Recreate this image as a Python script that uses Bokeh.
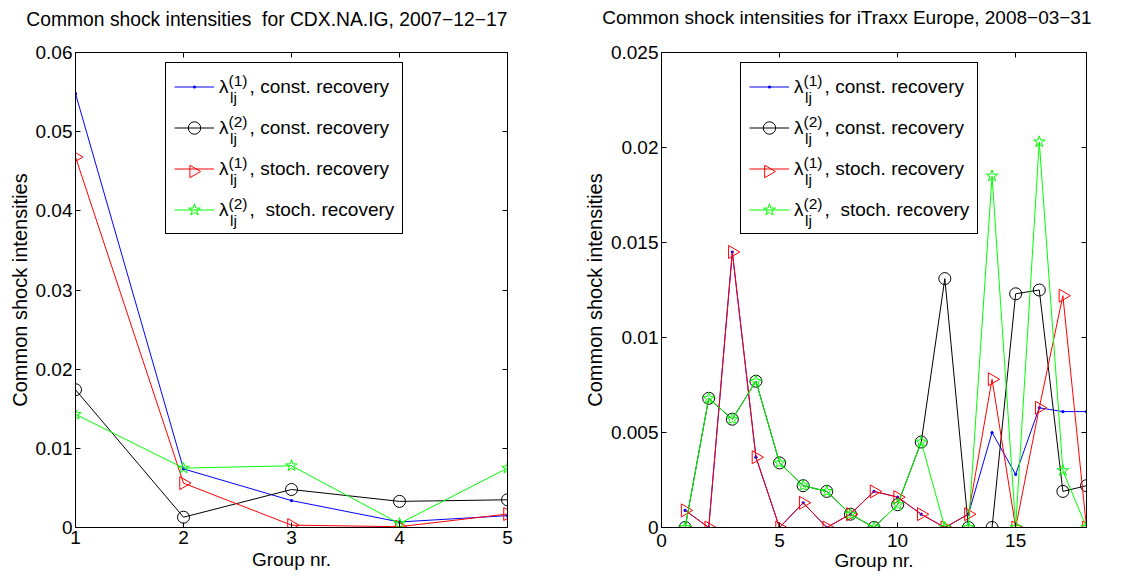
import math
from bokeh.plotting import figure
from bokeh.models import Range1d, FixedTicker, LinearAxis, Legend, LegendItem, Label
from bokeh.core.properties import value
from bokeh.layouts import row
from bokeh.embed import file_html
from bokeh.resources import INLINE

# ---------------- data ----------------
# Left panel: CDX.NA.IG, 2007-12-17
cdx_groups = [1, 2, 3, 4, 5]
cdx_l1_const = [0.0548, 0.0074, 0.0034, 0.0007, 0.0015]
cdx_l2_const = [0.0174, 0.0013, 0.0048, 0.0033, 0.0035]
cdx_l1_stoch = [0.0468, 0.0056, 0.0003, 0.0001, 0.0017]
cdx_l2_stoch = [0.0143, 0.0075, 0.0078, 0.0005, 0.0075]

# Right panel: iTraxx Europe, 2008-03-31
itx_groups = [1, 2, 3, 4, 5, 6, 7, 8, 9, 10, 11, 12, 13, 14, 15, 16, 17, 18]
itx_l1_const = [0.0009, 0.0, 0.0145, 0.0037, 0.0, 0.0013, 0.0, 0.0007, 0.0019,
                0.0016, 0.0007, 0.0, 0.0007, 0.0050, 0.0028, 0.0063, 0.0061, 0.0061]
itx_l2_const = [0.0, 0.0068, 0.0057, 0.0077, 0.0034, 0.0022, 0.0019, 0.0007, 0.0,
                0.0012, 0.0045, 0.0131, 0.0, 0.0, 0.0123, 0.0125, 0.0019, 0.0022]
itx_l1_stoch = [0.0009, 0.0, 0.0145, 0.0037, 0.0, 0.0013, 0.0, 0.0007, 0.0019,
                0.0016, 0.0007, 0.0, 0.0007, 0.0078, 0.0, 0.0063, 0.0122, 0.0]
itx_l2_stoch = [0.0, 0.0068, 0.0057, 0.0077, 0.0034, 0.0022, 0.0019, 0.0007, 0.0,
                0.0012, 0.0045, 0.0, 0.0, 0.0185, 0.0, 0.0203, 0.0030, 0.0]

# ticks
cdx_xticks = [1, 2, 3, 4, 5]
cdx_xlabels = ["1", "2", "3", "4", "5"]
cdx_yticks = [0, 0.01, 0.02, 0.03, 0.04, 0.05, 0.06]
cdx_ylabels = ["0", "0.01", "0.02", "0.03", "0.04", "0.05", "0.06"]
itx_xticks = [0, 5, 10, 15]
itx_xlabels = ["0", "5", "10", "15"]
itx_yticks = [0, 0.005, 0.01, 0.015, 0.02, 0.025]
itx_ylabels = ["0", "0.005", "0.01", "0.015", "0.02", "0.025"]

# legend texts
GAP = "\u00a0\u00a0\u00a0\u00a0"
legend_main = ["λ" + GAP + ", const. recovery",
               "λ" + GAP + ", const. recovery",
               "λ" + GAP + ", stoch. recovery",
               "λ" + GAP + ",\u00a0\u00a0stoch. recovery"]
legend_sup = ["(1)", "(2)", "(1)", "(2)"]
legend_sub = "lj"

title_cdx = "Common shock intensities\u00a0 for CDX.NA.IG, 2007\u221212\u221217"
title_itx = "Common shock intensities for iTraxx Europe, 2008\u221203\u221231"
x_title = "Group nr."
y_title = "Common shock intensities"

FONT = "Liberation Sans"

styles = [
    dict(color="#0000ff", marker="dot", size=13, angle=0.0, fill="#0000ff"),
    dict(color="#000000", marker="circle", size=12, angle=0.0, fill=None),
    dict(color="#ff0000", marker="triangle", size=13, angle=-math.pi / 2, fill=None),
    dict(color="#00ff00", marker="star", size=12, angle=0.0, fill=None),
]

PAD, LH, SP, GW, SO = 8, 31, 10, 40, 5
LEG_H = 2 * PAD + 4 * LH + 3 * SP


def make_panel(title, t_size, xs, series, xr, yr, xt, xl, yt, yl, width, mbl, mbr, mbt,
               mbb, t_standoff, t_offset, leg_x, leg_y, x_std, xl_std):
    p = figure(width=width, height=579, x_range=Range1d(*xr), y_range=Range1d(*yr),
               output_backend="svg", toolbar_location=None,
               min_border_left=mbl, min_border_right=mbr,
               min_border_top=mbt, min_border_bottom=mbb,
               background_fill_color="white", border_fill_color="white",
               outline_line_color="black", outline_line_width=1)
    fw = width - mbl - mbr
    fh = 579 - mbt - mbb
    p.extra_x_ranges = {"px": Range1d(0, fw)}
    p.extra_y_ranges = {"py": Range1d(0, fh)}
    p.grid.visible = False

    # title: a second (blank) line keeps the first line up at the top of the page
    p.title.text = title + "\n\u00a0"
    p.title.align = "right"
    p.title.vertical_align = "top"
    p.title.offset = t_offset
    p.title.standoff = t_standoff
    p.title.text_font = FONT
    p.title.text_font_size = t_size
    p.title.text_font_style = "normal"
    p.title.text_color = "black"

    xa = p.below[0]
    ya = p.left[0]
    for ax, ticks, labels in ((xa, xt, xl), (ya, yt, yl)):
        ax.ticker = FixedTicker(ticks=ticks)
        ax.major_label_overrides = {float(t): s for t, s in zip(ticks, labels)}
        ax.major_label_text_font = FONT
        ax.major_label_text_font_size = "19px"
        ax.major_label_text_color = "black"
        ax.major_tick_in = 5
        ax.major_tick_out = 0
        ax.major_tick_line_color = "black"
        ax.minor_tick_line_color = None
        ax.axis_line_color = "black"
        ax.axis_label_text_font = FONT
        ax.axis_label_text_font_style = "normal"
        ax.axis_label_text_color = "black"
    xa.axis_label = x_title
    xa.axis_label_text_font_size = "19px"
    xa.major_label_standoff = x_std
    xa.axis_label_standoff = xl_std
    ya.axis_label = y_title
    ya.axis_label_text_font_size = "20px"
    ya.major_label_standoff = 3
    ya.axis_label_standoff = 2

    for side, ticks in (("above", xt), ("right", yt)):
        ax = LinearAxis(ticker=FixedTicker(ticks=ticks), major_label_text_font_size="0px",
                        major_label_text_color=None,
                        major_label_standoff=0, major_tick_in=5, major_tick_out=0,
                        major_tick_line_color="black", minor_tick_line_color=None,
                        axis_line_color="black")
        p.add_layout(ax, side)

    items = []
    for vals, st, lab in zip(series, styles, legend_main):
        lr = p.line(xs, vals, line_color=st["color"], line_width=1)
        sr = p.scatter(xs, vals, marker=st["marker"], size=st["size"], angle=st["angle"],
                       line_color=st["color"], fill_color=st["fill"], line_width=1)
        rends = [lr] if st["angle"] != 0 else [lr, sr]
        items.append(LegendItem(label=value(lab), renderers=rends))

    legend = Legend(items=items, location=(leg_x, leg_y), padding=PAD, spacing=SP,
                    label_height=LH, glyph_height=LH, glyph_width=GW, label_standoff=SO,
                    margin=0, border_line_color="black", border_line_width=1,
                    border_line_alpha=1, background_fill_alpha=0,
                    label_text_font=FONT,
                    label_text_font_size="19px", label_text_color="black")
    p.add_layout(legend)

    lx = leg_x + PAD + GW + SO
    for i, (sup, st) in enumerate(zip(legend_sup, styles)):
        yc = leg_y + LEG_H - PAD - LH / 2 - i * (LH + SP)
        if st["angle"] != 0:
            # rotated legend marker (Bokeh legends ignore marker angle)
            p.scatter([leg_x + PAD + GW / 2], [yc], x_range_name="px", y_range_name="py",
                      marker=st["marker"], size=0.4 * min(GW, LH), angle=st["angle"],
                      line_color=st["color"], fill_color=st["fill"], line_width=1)
        p.add_layout(Label(x=lx + 10, y=yc + 8, x_units="screen", y_units="screen",
                           text=sup, text_font=FONT, text_font_size="15.5px",
                           text_baseline="alphabetic", text_align="left",
                           text_color="black"))
        p.add_layout(Label(x=lx + 11.5, y=yc - 9, x_units="screen", y_units="screen",
                           text=legend_sub, text_font=FONT, text_font_size="15.5px",
                           text_baseline="alphabetic", text_align="left",
                           text_color="black"))
    return p


p1 = make_panel(title_cdx, "19.3px", cdx_groups,
                [cdx_l1_const, cdx_l2_const, cdx_l1_stoch, cdx_l2_stoch],
                (1, 5), (0, 0.06), cdx_xticks, cdx_xlabels, cdx_yticks, cdx_ylabels,
                580, 75, 73, 50, 52, 0, 0, 90, 293, 3, 2)
p2 = make_panel(title_itx, "19px", itx_groups,
                [itx_l1_const, itx_l2_const, itx_l1_stoch, itx_l2_stoch],
                (0, 18), (0, 0.025), itx_xticks, itx_xlabels, itx_yticks, itx_ylabels,
                568, 80, 62, 52, 50, 4, -5, 79, 293, 6, 0)

layout = row(p1, p2)
open("out.html", "w").write(file_html(layout, INLINE))
